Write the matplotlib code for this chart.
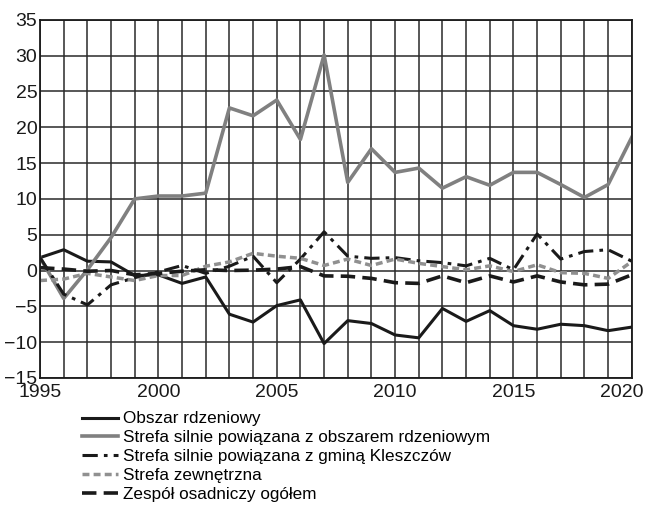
import matplotlib
matplotlib.use("Agg")
import matplotlib.pyplot as plt
from matplotlib.transforms import ScaledTranslation

plt.rcParams['font.family'] = ['Liberation Sans', 'DejaVu Sans']

years = list(range(1995, 2021))

obszar_rdzeniowy = [1.8, 2.9, 1.3, 1.2, -0.7, -0.6, -1.8, -0.9, -6.1, -7.2,
                    -4.9, -4.1, -10.2, -7.0, -7.4, -9.0, -9.4, -5.3, -7.1, -5.6,
                    -7.7, -8.2, -7.5, -7.7, -8.4, -7.9]
strefa_rdzen = [1.8, -3.9, 0.1, 4.6, 10.0, 10.4, 10.4, 10.8, 22.7, 21.6,
                23.8, 18.3, 30.1, 12.3, 17.0, 13.7, 14.3, 11.5, 13.1, 11.9,
                13.7, 13.7, 12.0, 10.2, 12.0, 18.6]
strefa_kleszczow = [1.8, -3.3, -4.8, -2.0, -1.0, -0.2, 0.7, -0.4, 0.6, 2.0,
                    -1.7, 1.6, 5.4, 2.0, 1.7, 1.8, 1.35, 1.1, 0.65, 1.7,
                    0.1, 5.1, 1.6, 2.65, 2.9, 1.3]
strefa_zewnetrzna = [-1.4, -1.2, -0.4, -0.9, -1.4, -0.7, -0.7, 0.6, 1.2, 2.4,
                     2.0, 1.7, 0.7, 1.6, 0.7, 1.6, 1.0, 0.55, 0.1, 0.65,
                     -0.15, 0.8, -0.3, -0.4, -1.1, 1.25]
zespol_ogolem = [0.4, 0.2, -0.1, 0.0, -0.6, -0.4, -0.1, 0.1, 0.0, 0.05,
                 0.2, 0.55, -0.75, -0.8, -1.1, -1.7, -1.8, -0.75, -1.7, -0.75,
                 -1.6, -0.75, -1.6, -2.0, -1.9, -0.6]

labels = ["Obszar rdzeniowy",
          "Strefa silnie powiązana z obszarem rdzeniowym",
          "Strefa silnie powiązana z gminą Kleszczów",
          "Strefa zewnętrzna",
          "Zespół osadniczy ogółem"]

fig = plt.figure(figsize=(6.46, 5.08), dpi=100)
ax = fig.add_axes([0.062, 0.256, 0.916, 0.705])

ax.plot(years, obszar_rdzeniowy, color='#1a1a1a', lw=2.2, label=labels[0])
ax.plot(years, strefa_rdzen, color='#808080', lw=2.6, label=labels[1])
ax.plot(years, strefa_kleszczow, color='#1a1a1a', lw=2.2,
        linestyle=(0, (5, 2, 1.2, 2)), label=labels[2])
ax.plot(years, strefa_zewnetrzna, color='#909090', lw=2.5,
        linestyle=(0, (2, 1.2)), label=labels[3])
ax.plot(years, zespol_ogolem, color='#1a1a1a', lw=2.6,
        linestyle=(0, (4, 2)), label=labels[4])

ax.set_xlim(1995, 2020)
ax.set_ylim(-15, 35)
ax.set_xticks(years)
ax.set_xticklabels([str(y) if y % 5 == 0 else '' for y in years])
ax.set_yticks(range(-15, 36, 5))
ax.grid(True, color='#2a2a2a', lw=1.1)
ax.set_axisbelow(True)
ax.tick_params(length=0, labelsize=14, colors='#1a1a1a')
ax.tick_params(axis='y', pad=2)
ax.tick_params(axis='x', pad=4)
for s in ax.spines.values():
    s.set_color('#1a1a1a')
    s.set_linewidth(1.3)

# last year label pulled inside the figure, as in the original
last = ax.get_xticklabels()[-1]
last.set_transform(last.get_transform() + ScaledTranslation(-0.1, 0, fig.dpi_scale_trans))

fig.legend(loc='upper left', bbox_to_anchor=(0.127, 0.19), frameon=False,
           fontsize=12.3, handlelength=2.1, handletextpad=0.3,
           labelspacing=0.22, borderpad=0, borderaxespad=0)

fig.savefig('out.png', dpi=100)
